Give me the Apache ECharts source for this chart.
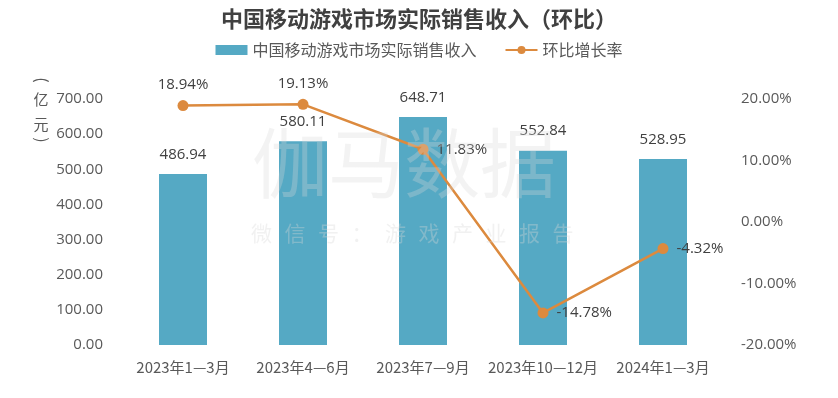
<!DOCTYPE html>
<html>
<head>
<meta charset="utf-8">
<script src="https://cdn.jsdelivr.net/npm/echarts@6/dist/echarts.min.js"></script>
<style>
  html, body { margin: 0; padding: 0; background: #fff; }
  #chart { width: 838px; height: 398px; }
</style>
</head>
<body>
<div id="chart"></div>
<script>
var categories = ['2023年1—3月', '2023年4—6月', '2023年7—9月', '2023年10—12月', '2024年1—3月'];
var revenue = [486.94, 580.11, 648.71, 552.84, 528.95];
var growth = [18.94, 19.13, 11.83, -14.78, -4.32];
var growthLabelPos = ['top', 'top', 'right', 'right', 'right'];
var watermarkSub = '微信号：游戏产业报告';

var font = '"Noto Sans CJK SC", "Noto Sans", sans-serif';
var numFont = '"Open Sans", "Noto Sans", sans-serif';
var chart = echarts.init(document.getElementById('chart'));

var graphics = [
    {
        type: 'text', x: 42, y: 80, rotation: -Math.PI / 2,
        style: { text: '(', fontSize: 16, fill: '#595959', align: 'center', verticalAlign: 'middle', fontFamily: font }
    },
    {
        type: 'text', x: 41, y: 99,
        style: { text: '亿', fontSize: 15, fill: '#595959', align: 'center', verticalAlign: 'middle', fontFamily: font }
    },
    {
        type: 'text', x: 41, y: 124,
        style: { text: '元', fontSize: 15, fill: '#595959', align: 'center', verticalAlign: 'middle', fontFamily: font }
    },
    {
        type: 'text', x: 42, y: 140, rotation: -Math.PI / 2,
        style: { text: ')', fontSize: 16, fill: '#595959', align: 'center', verticalAlign: 'middle', fontFamily: font }
    },
    {
        type: 'text', left: 252, top: 125, z: 100, silent: true,
        style: { text: '伽马数据', fontSize: 76, fill: 'rgba(215,215,215,0.3)', fontFamily: font }
    }
];
// spaced watermark line
watermarkSub.split('').forEach(function (ch, i) {
    graphics.push({
        type: 'text', x: 251 + i * 33.5, y: 223, z: 100, silent: true,
        style: { text: ch, fontSize: 21, fill: 'rgba(215,215,215,0.35)', fontFamily: font }
    });
});

var option = {
    backgroundColor: '#fff',
    textStyle: { fontFamily: font },
    title: {
        text: '中国移动游戏市场实际销售收入（环比）',
        left: 'center',
        top: 3,
        textStyle: { fontSize: 22, fontWeight: 'bold', color: '#404040', fontFamily: font }
    },
    legend: {
        top: 37,
        left: 'center',
        itemGap: 28,
        textStyle: { fontSize: 16, color: '#595959', fontFamily: font },
        data: [
            { name: '中国移动游戏市场实际销售收入', icon: 'rect', itemStyle: { color: '#55a9c4' } },
            { name: '环比增长率' }
        ],
        itemWidth: 32,
        itemHeight: 10
    },
    graphic: graphics,
    grid: { left: 123, right: 115, top: 99, bottom: 53 },
    xAxis: {
        type: 'category',
        data: categories,
        axisLine: { show: false },
        axisTick: { show: false },
        axisLabel: { interval: 0, fontSize: 15, color: '#595959', margin: 15, fontFamily: font }
    },
    yAxis: [
        {
            type: 'value', min: 0, max: 700, interval: 100,
            splitLine: { show: false },
            axisLine: { show: false },
            axisTick: { show: false },
            axisLabel: {
                fontSize: 15, color: '#595959', margin: 20, fontFamily: numFont,
                formatter: function (v) { return v.toFixed(2); }
            }
        },
        {
            type: 'value', min: -20, max: 20, interval: 10,
            splitLine: { show: false },
            axisLine: { show: false },
            axisTick: { show: false },
            axisLabel: {
                fontSize: 15, color: '#595959', margin: 18, fontFamily: numFont,
                formatter: function (v) { return v.toFixed(2) + '%'; }
            }
        }
    ],
    series: [
        {
            name: '中国移动游戏市场实际销售收入',
            type: 'bar',
            data: revenue,
            barWidth: 48,
            itemStyle: { color: '#55a9c4' },
            label: {
                show: true, position: 'top', distance: 12,
                fontSize: 15, color: '#404040', fontFamily: numFont,
                formatter: function (p) { return p.value.toFixed(2); }
            }
        },
        {
            name: '环比增长率',
            type: 'line',
            yAxisIndex: 1,
            data: growth.map(function (v, i) {
                return { value: v, label: { position: growthLabelPos[i] } };
            }),
            symbol: 'circle',
            symbolSize: 11,
            lineStyle: { color: '#dc8a3e', width: 2.5 },
            itemStyle: { color: '#dc8a3e' },
            label: {
                show: true, distance: 8,
                fontSize: 15, color: '#404040', fontFamily: numFont,
                formatter: function (p) { return p.value.toFixed(2) + '%'; }
            }
        }
    ]
};
chart.setOption(option);
</script>
</body>
</html>
